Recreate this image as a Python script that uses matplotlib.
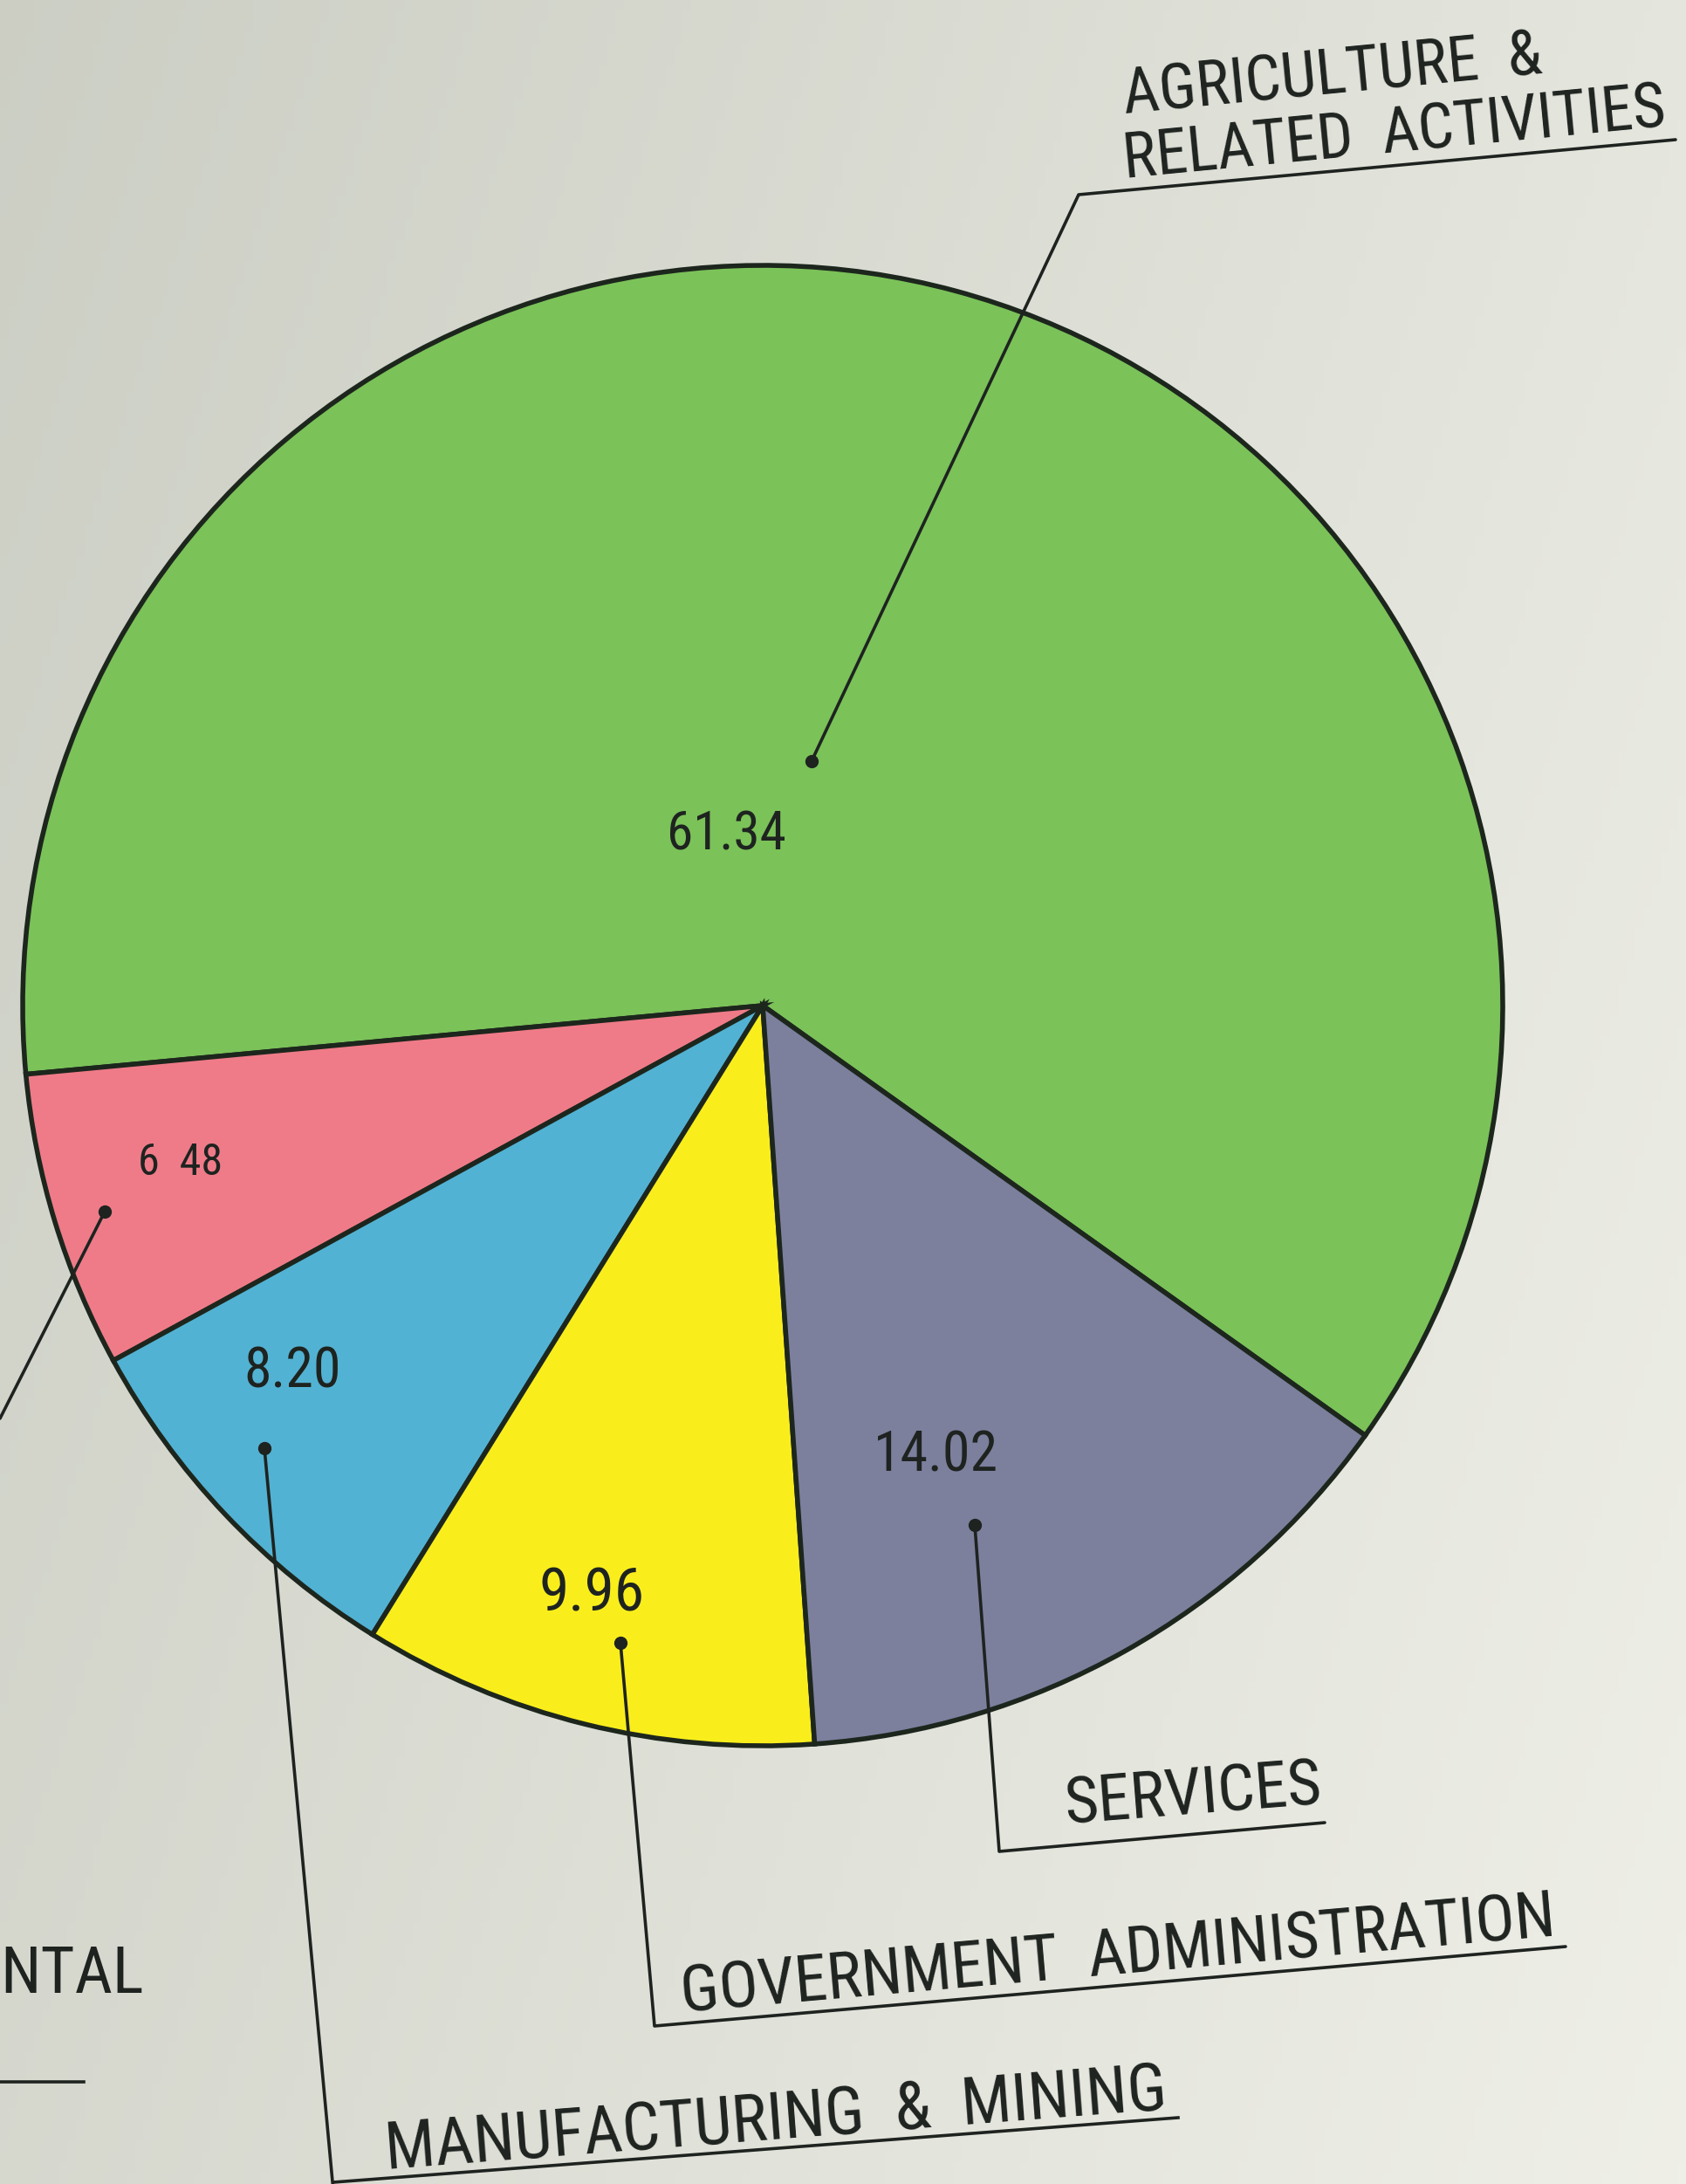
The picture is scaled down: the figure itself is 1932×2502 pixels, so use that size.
import numpy as np
import matplotlib.pyplot as plt

# shares of the economy (per cent)
sectors = ['AGRICULTURE &\nRELATED ACTIVITIES', 'NTAL', 'MANUFACTURING & MINING',
           'GOVERNMENT ADMINISTRATION', 'SERVICES']
shares = [61.34, 6.48, 8.20, 9.96, 14.02]
share_labels = ['61.34', '6  48', '8.20', '9.96', '14.02']
colors = ['#7bc259', '#ef7b88', '#52b2d3', '#f9ee1c', '#7c809d']

W, H = 1932, 2502
fig = plt.figure(figsize=(W / 100, H / 100), dpi=100)
ax = fig.add_axes([0, 0, 1, 1])

# paper background, a bit darker on the left
gx = np.linspace(0, 1, 200)
gy = np.linspace(0, 1, 200)
GX, GY = np.meshgrid(gx, gy)
shade = 0.6 * GX + 0.25 * GY
c0 = np.array([0.80, 0.81, 0.77])
c1 = np.array([0.96, 0.96, 0.93])
bg = c0 + (c1 - c0) * np.clip(shade, 0, 1)[..., None]
ax.imshow(bg, extent=(0, W, 0, H), origin='upper', zorder=0, aspect='auto')

cx, cy, r = 874, H - 1152, 848
wedges, _ = ax.pie(shares, colors=colors, startangle=-35.5, counterclock=True,
                   center=(cx, cy), radius=r, frame=True,
                   wedgeprops=dict(edgecolor='#1d261d', linewidth=4))
for w in wedges:
    w.set_zorder(2)

ax.set_xlim(0, W)
ax.set_ylim(0, H)
ax.set_aspect('equal')
ax.axis('off')

ink = '#1e2320'
font = ['Roboto Condensed', 'Liberation Sans Narrow', 'DejaVu Sans']

# numbers inside the slices: (x, y, size)
num_pos = [(832, 957, 44), (207, 1332, 36), (335, 1571, 46), (678, 1826, 50), (1072, 1667, 46)]
for txt, (x, y, fs) in zip(share_labels, num_pos):
    ax.text(x, H - y, txt, fontsize=fs, family=font, color=ink, ha='center', va='center',
            zorder=5)

def leader(points, dot):
    xs = [p[0] for p in points]
    ys = [H - p[1] for p in points]
    ax.plot(xs, ys, color=ink, lw=2.6, zorder=6, solid_capstyle='round')
    ax.plot(dot[0], H - dot[1], 'o', ms=10, color=ink, zorder=6)

lab = dict(fontsize=54, family=font, color=ink, rotation_mode='anchor',
           ha='left', va='baseline', zorder=6)

# agriculture
leader([(930, 872), (1236, 223), (1920, 160)], (930, 872))
ax.text(1289, H - 131, 'AGRICULTURE  &', rotation=5.5, **{**lab, 'fontsize': 52})
ax.text(1289, H - 205, 'RELATED  ACTIVITIES', rotation=5.5, **{**lab, 'fontsize': 52})

# pink slice, label cut off at the left edge
leader([(120, 1388), (0, 1625)], (120, 1388))
ax.text(0, H - 2283, 'NTAL', rotation=0, **lab)
ax.plot([0, 96], [H - 2385, H - 2385], color=ink, lw=2.6, zorder=6)

# manufacturing & mining
leader([(303, 1659), (382, 2510)], (303, 1659))
ax.plot([382, 1350], [H - 2500, H - 2426], color=ink, lw=2.6, zorder=6)
ax.text(443, H - 2485, 'MANUFACTURING  &  MINING', rotation=4.4, **{**lab, 'fontsize': 55})

# government administration
leader([(711, 1882), (750, 2321), (1794, 2230)], (711, 1882))
ax.text(782, H - 2306, 'GOVERNMENT  ADMINISTRATION', rotation=5, **lab)

# services
leader([(1117, 1747), (1145, 2121), (1518, 2088)], (1117, 1747))
ax.text(1222, H - 2090, 'SERVICES', rotation=4.5, **lab)

plt.savefig('out.png', dpi=100)
